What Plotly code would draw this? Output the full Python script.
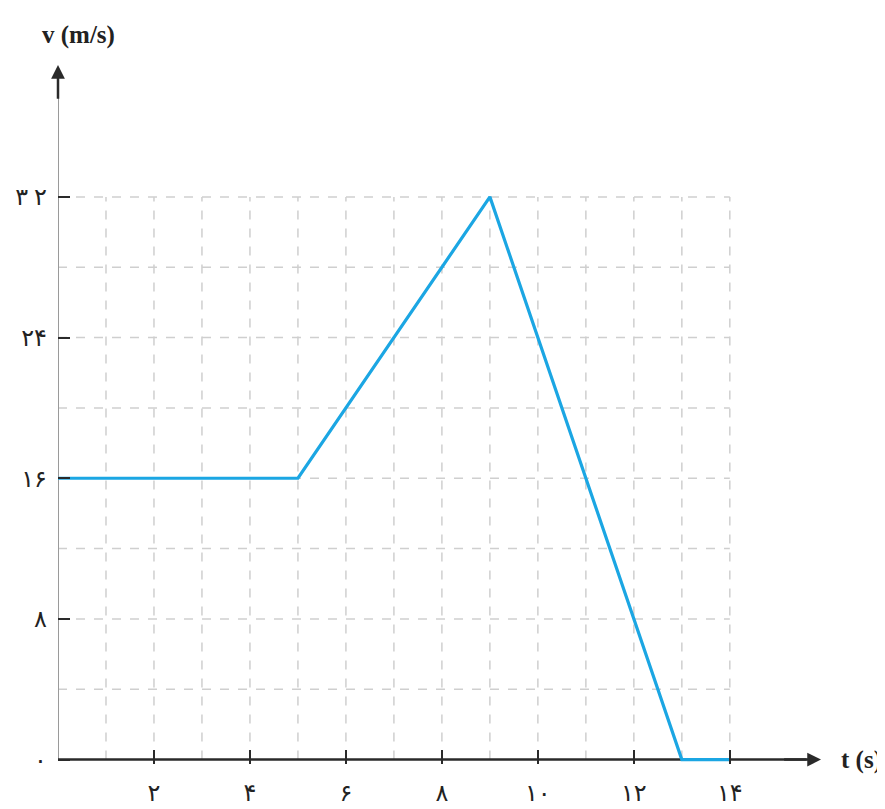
import plotly.graph_objects as go

# data
t_vals = [0, 5, 9, 13, 14]
v_vals = [16, 16, 32, 0, 0]

x_ticks = [2, 4, 6, 8, 10, 12, 14]
x_ticktext = ["۲", "۴", "۶", "۸", "۱۰", "۱۲", "۱۴"]
y_ticks = [0, 8, 16, 24, 32]
y_ticktext = ["۰", "۸", "۱۶", "۲۴", "۳ ۲"]

x_grid = list(range(1, 15))
y_grid = list(range(4, 33, 4))
x_max_grid = 14
y_max_grid = 32
x_end = 15.9
y_end = 39.5
y_low = -0.25

font_fam = "Liberation Serif, DejaVu Serif, DejaVu Sans, serif"

fig = go.Figure()
fig.add_trace(go.Scatter(x=t_vals, y=v_vals, mode="lines",
                         line=dict(color="#1ba6e3", width=3.2),
                         hoverinfo="skip", showlegend=False))

shapes = []
for gx in x_grid:
    shapes.append(dict(type="line", xref="x", yref="y", x0=gx, x1=gx, y0=0, y1=y_max_grid,
                       line=dict(color="#cfcfcf", width=1.5, dash="dash"), layer="below"))
for gy in y_grid:
    shapes.append(dict(type="line", xref="x", yref="y", x0=0, x1=x_max_grid, y0=gy, y1=gy,
                       line=dict(color="#cfcfcf", width=1.5, dash="dash"), layer="below"))
# y axis line (gray)
shapes.append(dict(type="line", xref="x", yref="y", x0=0, x1=0, y0=0, y1=y_end - 1.2,
                   line=dict(color="#9a9a9a", width=2), layer="below"))
# x axis line (dark) below the data line
shapes.append(dict(type="line", xref="x", yref="y", x0=0, x1=x_end - 0.3, y0=0, y1=0,
                   line=dict(color="#2a2a2a", width=2.5), layer="below"))
fig.update_layout(shapes=shapes)

annotations = [
    # x axis arrow head
    dict(x=x_end, y=0, ax=x_end - 0.8, ay=0, xref="x", yref="y", axref="x", ayref="y",
         showarrow=True, arrowhead=2, arrowsize=1.1, arrowwidth=2.5, arrowcolor="#2a2a2a", text=""),
    # y axis arrow head
    dict(x=0, y=y_end, ax=0, ay=y_end - 2.0, xref="x", yref="y", axref="x", ayref="y",
         showarrow=True, arrowhead=2, arrowsize=1.1, arrowwidth=2.5, arrowcolor="#2a2a2a", text=""),
    dict(text="<b>v (m/s)</b>", xref="paper", yref="paper", x=-0.024, y=1.0, yshift=30,
         xanchor="left", yanchor="middle", showarrow=False,
         font=dict(family=font_fam, size=25, color="#222")),
    dict(text="<b>t (s)</b>", xref="paper", yref="y", x=1.0, y=0, xshift=18,
         xanchor="left", yanchor="middle", showarrow=False,
         font=dict(family=font_fam, size=25, color="#222")),
]
fig.update_layout(annotations=annotations)

fig.update_xaxes(range=[0, x_end], tickvals=x_ticks, ticktext=x_ticktext,
                 ticks="inside", ticklen=14, tickwidth=2, tickcolor="#2a2a2a",
                 showgrid=False, zeroline=False, showline=False, automargin=False,
                 ticklabelstandoff=12,
                 tickfont=dict(family=font_fam, size=24, color="#222"))
fig.update_yaxes(range=[y_low, y_end], tickvals=y_ticks, ticktext=y_ticktext,
                 ticks="inside", ticklen=12, tickwidth=2, tickcolor="#2a2a2a",
                 showgrid=False, zeroline=False, showline=False, automargin=False,
                 ticklabelstandoff=10,
                 tickfont=dict(family=font_fam, size=24, color="#222"))

# page body adds an 8px offset; compensate so the plot lands where the reference has it
fig.update_layout(width=885, height=809,
                  margin=dict(l=50, r=72, t=57, b=53),
                  plot_bgcolor="white", paper_bgcolor="white")

fig.write_html("out.html")
